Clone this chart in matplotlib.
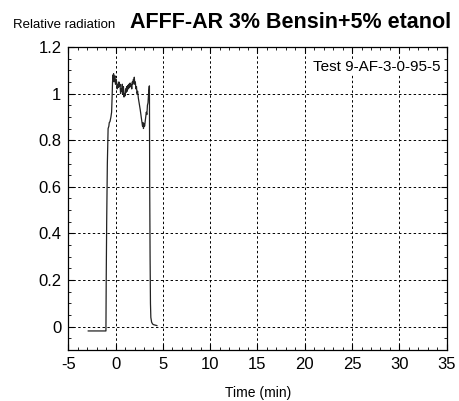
import matplotlib
matplotlib.use("Agg")
import matplotlib.pyplot as plt
from matplotlib.ticker import MultipleLocator, FuncFormatter

plt.rcParams['font.family'] = ['Liberation Sans', 'DejaVu Sans']
plt.rcParams['axes.unicode_minus'] = False

time_min = [-2.9, -1.03, -1.0, -0.95, -0.88, -0.8, -0.72, -0.68, -0.6, -0.5, -0.43, -0.38,
            -0.33, -0.28, -0.25, -0.22, -0.17, -0.12, -0.07, -0.02, 0.05, 0.1, 0.16, 0.22,
            0.28, 0.34, 0.4, 0.46, 0.52, 0.58, 0.63, 0.7, 0.76, 0.82, 0.88, 0.94, 0.99, 1.05,
            1.1, 1.16, 1.22, 1.28, 1.34, 1.4, 1.46, 1.52, 1.58, 1.64, 1.7, 1.76, 1.82, 1.87,
            1.92, 1.97, 2.02, 2.08, 2.14, 2.2, 2.26, 2.32, 2.4, 2.5, 2.6, 2.7, 2.77, 2.84,
            2.9, 2.94, 3.0, 3.06, 3.12, 3.18, 3.24, 3.3, 3.36, 3.42, 3.48, 3.54, 3.57, 3.6,
            3.64, 3.68, 3.72, 3.8, 3.9, 4.0, 4.18, 4.36]
radiation = [-0.018, -0.018, 0.2, 0.45, 0.7, 0.85, 0.86, 0.875, 0.88, 0.9, 0.92, 0.98,
             1.05, 1.08, 1.06, 1.085, 1.05, 1.07, 1.076, 1.04, 1.06, 1.05, 1.02, 1.04,
             1.026, 1.05, 1.03, 1.04, 1.0, 1.02, 1.01, 1.04, 1.0, 1.03, 0.985, 1.0, 0.99, 1.02,
             1.005, 1.03, 1.01, 1.035, 1.02, 1.04, 1.025, 1.045, 1.03, 1.04, 1.02, 1.05, 1.04, 1.06,
             1.05, 1.07, 1.04, 1.05, 1.02, 1.03, 1.0, 1.01, 0.98, 0.955, 0.93, 0.9, 0.88, 0.86,
             0.875, 0.85, 0.87, 0.86, 0.88, 0.9, 0.92, 0.91, 0.95, 0.96, 1.0, 1.03, 1.033, 0.6,
             0.3, 0.1, 0.04, 0.02, 0.012, 0.009, 0.007, 0.005]

x_ticks = [-5, 0, 5, 10, 15, 20, 25, 30, 35]
y_ticks = [0, 0.2, 0.4, 0.6, 0.8, 1.0, 1.2]

fig = plt.figure(figsize=(4.59, 4.01), dpi=100)
ax = fig.add_axes([0.149, 0.127, 0.824, 0.756])

ax.plot(time_min, radiation, color='#222222', lw=0.9)

ax.set_xlim(-5, 35)
ax.set_ylim(-0.1, 1.2)
ax.set_xticks(x_ticks)
ax.set_yticks(y_ticks)
ax.xaxis.set_minor_locator(MultipleLocator(1))
ax.yaxis.set_minor_locator(MultipleLocator(0.05))
ax.yaxis.set_major_formatter(FuncFormatter(lambda v, p: ('%g' % round(v, 2))))
ax.tick_params(which='both', direction='in', top=True, right=True, labelsize=12, colors='black')
ax.tick_params(which='major', length=4.5, width=0.8, pad=5)
ax.tick_params(which='minor', length=2.5, width=0.6)
ax.grid(True, which='major', color='black', linestyle=(0, (2.5, 2.5)), lw=0.7)
for s in ax.spines.values():
    s.set_linewidth(0.9)

ax.text(0.985, 0.934, 'Test 9-AF-3-0-95-5', transform=ax.transAxes, ha='right', va='center',
        fontsize=11, bbox=dict(facecolor='white', edgecolor='none', pad=0.5))

fig.text(13/459, 1 - 28/401, 'Relative radiation', fontsize=9.5, ha='left', va='baseline')
fig.text(451/459, 1 - 28/401, 'AFFF-AR 3% Bensin+5% etanol', fontsize=15.5, fontweight='bold',
         ha='right', va='baseline')
fig.text(258/459, 1 - 393/401, 'Time (min)', fontsize=10, ha='center', va='center')

fig.savefig('out.png', dpi=100)
